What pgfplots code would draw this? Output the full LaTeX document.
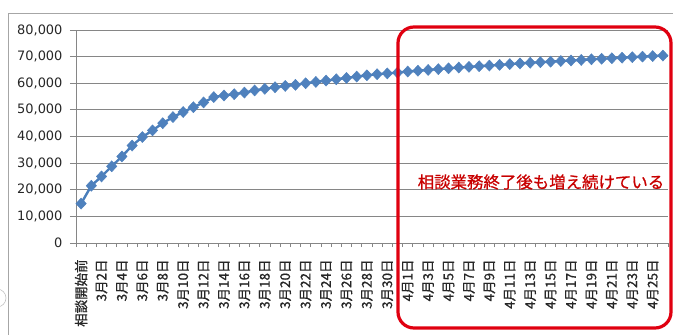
\documentclass[border=0pt]{standalone}
\usepackage{fontspec}
\setmainfont{Noto Sans CJK JP}
\newfontfamily\numfont{DejaVu Sans}
\newfontfamily\lblfont[FakeBold=0.8]{Noto Sans CJK JP}
\usepackage{pgfplots}
\pgfplotsset{compat=1.18}

\definecolor{seriesblue}{HTML}{4A7EBB}
\definecolor{markblue}{HTML}{4F81BD}
\definecolor{gridgray}{HTML}{868686}
\definecolor{framegray}{HTML}{A6A6A6}
\definecolor{boxred}{HTML}{E00010}
\definecolor{notered}{HTML}{C80000}

\begin{document}
\begin{tikzpicture}
\begin{axis}[
  at={(0,0)}, anchor=south west,
  scale only axis, width=592bp, height=213bp,
  xmin=-0.5, xmax=57.5, ymin=0, ymax=80000,
  axis x line*=bottom, axis y line*=left,
  axis line style={draw=gridgray, line width=0.8bp, -},
  ytick={0,10000,...,80000},
  scaled y ticks=false,
  yticklabel style={/pgf/number format/fixed, /pgf/number format/1000 sep={,},
    /pgf/number format/assume math mode=true, xshift=-4bp,
    font=\numfont\fontsize{13}{14}\selectfont, text=black!85},
  ymajorgrids, grid style={draw=gridgray, line width=0.8bp},
  xtick={0,2,...,56},
  xticklabels={相談開始前,3月2日,3月4日,3月6日,3月8日,3月10日,3月12日,3月14日,3月16日,
    3月18日,3月20日,3月22日,3月24日,3月26日,3月28日,3月30日,4月1日,4月3日,4月5日,
    4月7日,4月9日,4月11日,4月13日,4月15日,4月17日,4月19日,4月21日,4月23日,4月25日},
  xticklabel style={rotate=90, anchor=east, xshift=-7bp,
    font=\lblfont\fontsize{13.5}{14}\selectfont, text=black!85},
  minor xtick={-0.5,0.5,...,57.5},
  tick align=outside,
  major tick length=6bp, minor tick length=4bp,
  major x tick style={draw=none},
  tick style={draw=gridgray, line width=0.8bp},
  clip=false,
]
\addplot[seriesblue, line width=2.4bp, mark=diamond*, mark size=5.5bp,
  mark options={fill=markblue, draw=markblue, xscale=1.25, line width=0.5bp}]
  coordinates {
  (0,14800) (1,21500) (2,25000) (3,28800) (4,32500) (5,36600) (6,39800)
  (7,42300) (8,45000) (9,47300) (10,49200) (11,51000) (12,52800) (13,54800)
  (14,55400) (15,55900) (16,56500) (17,57300) (18,57900) (19,58500) (20,59000)
  (21,59400) (22,60000) (23,60500) (24,61000) (25,61500) (26,62000) (27,62500)
  (28,63000) (29,63400) (30,63700) (31,64000) (32,64400) (33,64700) (34,65000)
  (35,65300) (36,65600) (37,65900) (38,66150) (39,66400) (40,66650) (41,66900)
  (42,67200) (43,67450) (44,67700) (45,67900) (46,68100) (47,68350) (48,68550)
  (49,68750) (50,69000) (51,69200) (52,69400) (53,69600) (54,69800) (55,70000)
  (56,70200) (57,70400)
  };
\end{axis}
% chart area frame
\draw[framegray, line width=0.9bp] (-68bp,-100bp) -- (-68bp,230bp) -- (610bp,230bp);
\draw[framegray!70, line width=0.6bp] (-79bp,-55bp) circle (9bp);
% highlighted period
\draw[boxred, line width=3.2bp, rounded corners=16bp] (322bp,216bp) rectangle (595bp,-85bp);
\node[notered, font=\lblfont\fontsize{16.5}{17}\selectfont, anchor=center] at (465bp,61bp) {相談業務終了後も増え続けている};
\pgfresetboundingbox
\useasboundingbox (-76bp,-92bp) rectangle (597bp,243bp);
\end{tikzpicture}
\end{document}
